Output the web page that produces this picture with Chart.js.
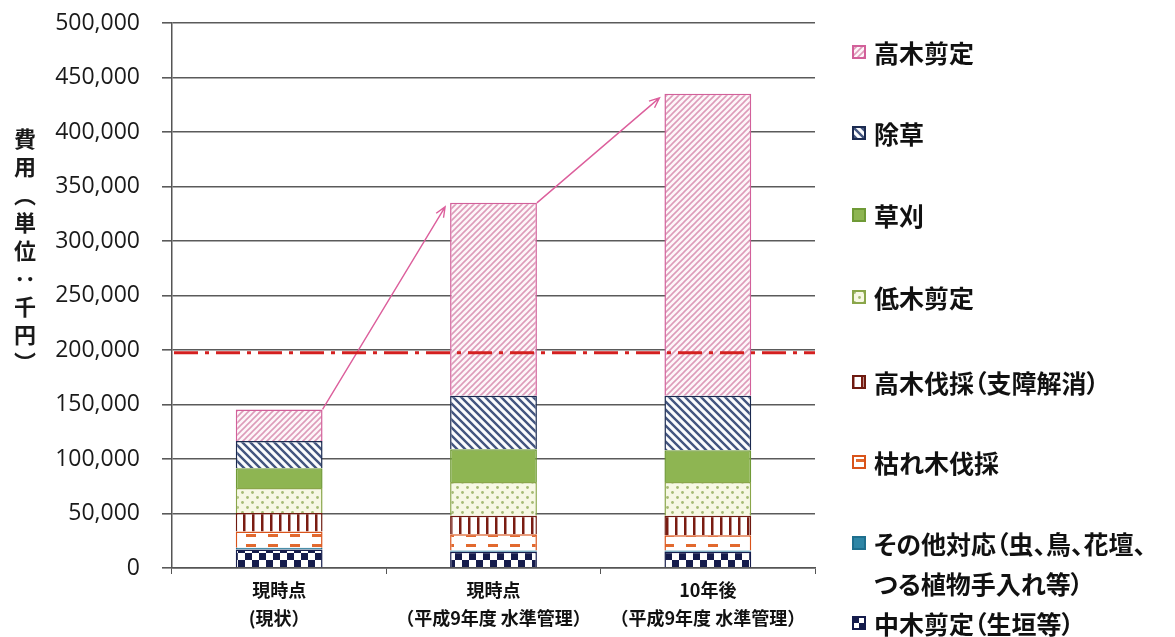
<!DOCTYPE html>
<html lang="ja">
<head>
<meta charset="utf-8">
<script src="https://cdn.jsdelivr.net/npm/chart.js@4"></script>
<style>
    html, body { margin: 0; padding: 0; background: #fff; }
    #wrap { position: relative; width: 1175px; height: 637px; overflow: hidden; }
    #chart { position: absolute; left: 0; top: 0; }
    #ytitle {
        position: absolute; left: 9px; top: 128px;
        writing-mode: vertical-rl;
        font: bold 22px "Noto Sans CJK JP";
        letter-spacing: 6px; color: #1a1a1a;
    }
    #legend { position: absolute; left: 852px; top: 0; width: 323px; height: 637px; }
    .item { position: absolute; left: 0; display: flex; align-items: flex-start;
        font: bold 25px "Noto Sans CJK JP"; line-height: 40px; color: #111; white-space: nowrap;
        font-feature-settings: "palt"; }
    .item canvas { margin: 13px 8px 0 0; flex: none; }
</style>
</head>
<body>
<div id="wrap">
    <canvas id="chart" width="1175" height="637"></canvas>
    <div id="ytitle">費用（単位：千円）</div>
    <div id="legend"></div>
</div>
<script>
// categories (x axis, two lines each)
const categories = [
    ["現時点", "(現状）"],
    ["現時点", "（平成9年度 水準管理）"],
    ["10年後", "（平成9年度 水準管理）"]
];

// series, bottom of the stack first
const seriesNames = [
    "中木剪定（生垣等）",
    ["その他対応（虫、鳥、花壇、", "つる植物手入れ等）"],
    "枯れ木伐採",
    "高木伐採（支障解消）",
    "低木剪定",
    "草刈",
    "除草",
    "高木剪定"
];
const chubokuSentei = [17000, 15000, 15000];
const sonotaTaiou = [1500, 1000, 1000];
const karekiBassai = [15000, 15000, 14000];
const koubokuBassai = [17000, 17000, 18000];
const teibokuSentei = [23000, 31000, 31000];
const kusakari = [18000, 30000, 29000];
const jyosou = [25000, 49000, 50000];
const koubokuSentei = [29000, 177000, 277000];

// budget line (dash-dot)
const thresholdValue = 197500;

// y axis
const yMax = 500000;
const yStep = 50000;

//----------------------patterns-----------------------------//
function tile(w, h, draw) {
    const c = document.createElement("canvas");
    c.width = w; c.height = h;
    draw(c.getContext("2d"), w, h);
    return c.getContext("2d").createPattern(c, "repeat");
}

function diag(bg, fg, s, lw, slash) {
    return tile(s, s, (g) => {
        g.fillStyle = bg; g.fillRect(0, 0, s, s);
        g.strokeStyle = fg; g.lineWidth = lw;
        g.beginPath();
        if (slash) {
            g.moveTo(0, s); g.lineTo(s, 0);
            g.moveTo(-1, 1); g.lineTo(1, -1);
            g.moveTo(s - 1, s + 1); g.lineTo(s + 1, s - 1);
        } else {
            g.moveTo(0, 0); g.lineTo(s, s);
            g.moveTo(s - 1, -1); g.lineTo(s + 1, 1);
            g.moveTo(-1, s - 1); g.lineTo(1, s + 1);
        }
        g.stroke();
    });
}

const patChecker = tile(14, 14, (g) => {
    g.fillStyle = "#fff"; g.fillRect(0, 0, 14, 14);
    g.fillStyle = "#151c4c";
    g.fillRect(0, 0, 7, 7); g.fillRect(7, 7, 7, 7);
});
const patDash = tile(22, 10, (g) => {
    g.fillStyle = "#fff"; g.fillRect(0, 0, 22, 10);
    g.fillStyle = "#e2692e"; g.fillRect(4, 4, 10, 3);
});
const patVert = tile(9, 10, (g) => {
    g.fillStyle = "#fff"; g.fillRect(0, 0, 9, 10);
    g.fillStyle = "#7a1c12"; g.fillRect(0, 0, 2.5, 10);
});
const patDots = tile(10, 10, (g) => {
    g.fillStyle = "#f7f8e4"; g.fillRect(0, 0, 10, 10);
    g.fillStyle = "#a6ba74";
    g.beginPath(); g.arc(2.5, 2.5, 1.4, 0, Math.PI * 2); g.fill();
    g.beginPath(); g.arc(7.5, 7.5, 1.4, 0, Math.PI * 2); g.fill();
});
const patNavy = diag("#fbfcfd", "#43557f", 8, 2.4, false);
const patPink = diag("#fdf6f9", "#dd9cba", 6, 1.6, true);

const datasets = [
    { label: seriesNames[0], data: chubokuSentei, backgroundColor: patChecker, borderColor: "#151c4c" },
    { label: seriesNames[1], data: sonotaTaiou, backgroundColor: "#2e86a6", borderColor: "#1f6f8e" },
    { label: seriesNames[2], data: karekiBassai, backgroundColor: patDash, borderColor: "#d9531a" },
    { label: seriesNames[3], data: koubokuBassai, backgroundColor: patVert, borderColor: "#6e1a10" },
    { label: seriesNames[4], data: teibokuSentei, backgroundColor: patDots, borderColor: "#8aa64a" },
    { label: seriesNames[5], data: kusakari, backgroundColor: "#8eb552", borderColor: "#6f9a36" },
    { label: seriesNames[6], data: jyosou, backgroundColor: patNavy, borderColor: "#1b2a50" },
    { label: seriesNames[7], data: koubokuSentei, backgroundColor: patPink, borderColor: "#d2609a" }
].map((d) => ({ ...d, borderWidth: 1.5, categoryPercentage: 0.405, barPercentage: 1 }));

//----------------------extra drawing-----------------------------//
function arrow(ctx, x1, y1, x2, y2) {
    const a = Math.atan2(y2 - y1, x2 - x1);
    ctx.beginPath();
    ctx.moveTo(x1, y1); ctx.lineTo(x2, y2);
    ctx.moveTo(x2 - 11 * Math.cos(a - 0.4), y2 - 11 * Math.sin(a - 0.4));
    ctx.lineTo(x2, y2);
    ctx.lineTo(x2 - 11 * Math.cos(a + 0.4), y2 - 11 * Math.sin(a + 0.4));
    ctx.stroke();
}

const overlay = {
    id: "overlay",
    afterDatasetsDraw(chart) {
        const ctx = chart.ctx;
        const area = chart.chartArea;
        const meta = chart.getDatasetMeta(chart.data.datasets.length - 1);
        ctx.save();
        // growth arrows between bar tops
        ctx.strokeStyle = "#dc5f9c";
        ctx.lineWidth = 1.4;
        for (let i = 0; i < meta.data.length - 1; i++) {
            const a = meta.data[i], b = meta.data[i + 1];
            arrow(ctx, a.x + a.width / 2, a.y, b.x - b.width / 2 - 5, b.y + 4);
        }
        // budget line
        const y = chart.scales.y.getPixelForValue(thresholdValue);
        ctx.strokeStyle = "#d42020";
        ctx.lineWidth = 3;
        ctx.setLineDash([24, 7, 4, 7]);
        ctx.beginPath();
        ctx.moveTo(area.left + 2, y); ctx.lineTo(area.right, y);
        ctx.stroke();
        ctx.restore();
    }
};

const chart = new Chart(document.getElementById("chart"), {
    type: "bar",
    data: { labels: categories, datasets: datasets },
    plugins: [overlay],
    options: {
        responsive: false,
        animation: false,
        layout: { padding: { left: 0, right: 360, top: 23, bottom: 0 } },
        plugins: { legend: { display: false }, tooltip: { enabled: false } },
        scales: {
            x: {
                stacked: true,
                afterFit: (s) => { s.height = 69; },
                grid: { drawOnChartArea: false, tickLength: 6, color: "#555" },
                border: { color: "#555", width: 1.5 },
                ticks: {
                    color: "#111", padding: 2,
                    font: { family: "Noto Sans CJK JP", size: 18, weight: "bold", lineHeight: 1.55 }
                }
            },
            y: {
                stacked: true,
                min: 0, max: yMax,
                afterFit: (s) => { s.width = 172; s.paddingTop = 0; },
                grid: { color: "#5a5a5a", lineWidth: 1.6, tickLength: 10 },
                border: { color: "#555", width: 1.5 },
                ticks: {
                    stepSize: yStep, color: "#1a1a1a", padding: 22,
                    font: { family: "Open Sans", size: 23 },
                    callback: (v) => v.toLocaleString("en-US")
                }
            }
        }
    }
});

//----------------------legend-----------------------------//
const legendTop = [32, 113, 195, 277, 362, 442, 523, 603];
const legend = document.getElementById("legend");
datasets.slice().reverse().forEach((ds, i) => {
    const item = document.createElement("div");
    item.className = "item";
    item.style.top = legendTop[i] + "px";
    const sw = document.createElement("canvas");
    sw.width = 14; sw.height = 14;
    const g = sw.getContext("2d");
    g.fillStyle = ds.backgroundColor; g.fillRect(0, 0, 14, 14);
    g.strokeStyle = ds.borderColor; g.lineWidth = 2; g.strokeRect(1, 1, 12, 12);
    const txt = document.createElement("div");
    txt.innerHTML = [].concat(ds.label).join("<br>");
    item.appendChild(sw);
    item.appendChild(txt);
    legend.appendChild(item);
});
</script>
</body>
</html>
